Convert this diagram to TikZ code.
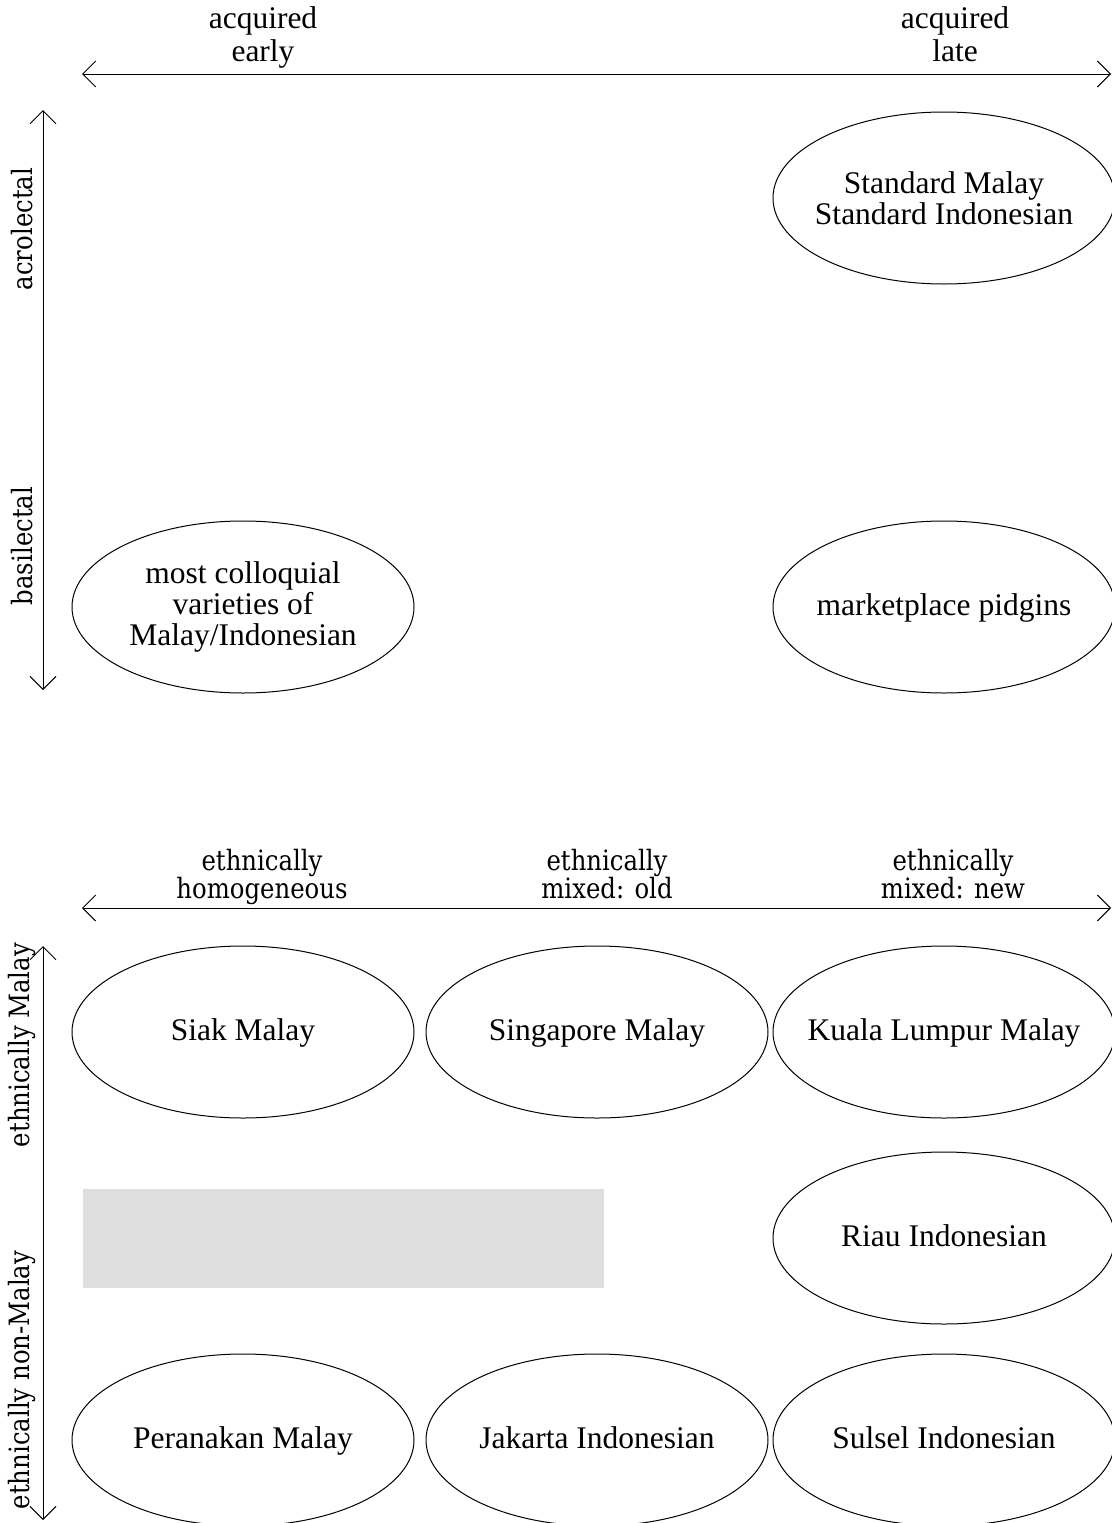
\documentclass[tikz,border=0pt]{standalone}
\usepackage{fontspec}
\setmainfont{Liberation Serif}
\newfontfamily\pixfont[FakeStretch=0.87]{DejaVu Serif}
\usetikzlibrary{arrows.meta,shapes.geometric}
\definecolor{boxgray}{HTML}{DEDEDE}
\tikzset{
  variety/.style={ellipse,draw,line width=1pt,minimum width=342pt,
    minimum height=172pt,inner xsep=-25pt,inner ysep=0pt,align=center,
    font=\fontsize{31.5}{31}\selectfont},
  oneline/.style={text height=21pt,text depth=5pt},
  axisline/.style={line width=1pt,
    {Straight Barb[length=13pt,width=26pt]}-{Straight Barb[length=13pt,width=26pt]}},
  poletext/.style={inner sep=0pt,align=center,anchor=north,
    font=\fontsize{31.5}{33}\selectfont},
  pixtext/.style={inner sep=0pt,align=center,
    font=\pixfont\fontsize{28}{24}\selectfont},
}
\begin{document}
\begin{tikzpicture}[x=1pt,y=-1pt]
\useasboundingbox (0,0) rectangle (1111,1523);
% acquisition and lect axes
\coordinate (acqL) at (82,74);
\coordinate (acqR) at (1111,74);
\draw[axisline] (acqL) -- (acqR);
\node[poletext] (early) at (263,6) {acquired\\early};
\node[poletext] (late) at (955,6) {acquired\\late};
\coordinate (lectT) at (43,110);
\coordinate (lectB) at (43,690);
\draw[axisline] (lectT) -- (lectB);
\node[pixtext,rotate=90] (acro) at (22,229) {acrolectal};
\node[pixtext,rotate=90] (basi) at (22,546) {basilectal};
\node[variety] (standard) at (944,198) {Standard Malay\\Standard Indonesian};
\node[variety] (colloq) at (243,607) {most colloquial\\varieties of\\Malay/Indonesian};
\node[variety,oneline] (pidgin) at (944,607) {marketplace pidgins};
% ethnicity axes
\coordinate (mixL) at (82,908);
\coordinate (mixR) at (1111,908);
\draw[axisline] (mixL) -- (mixR);
\node[pixtext,anchor=north] (homog) at (262,849) {ethnically\\homogeneous};
\node[pixtext,anchor=north] (mixold) at (607,849) {ethnically\\mixed: old};
\node[pixtext,anchor=north] (mixnew) at (953,849) {ethnically\\mixed: new};
\coordinate (ethT) at (43,946);
\coordinate (ethB) at (43,1520);
\draw[axisline] (ethT) -- (ethB);
\node[pixtext,rotate=90] (ethmalay) at (22,1045) {ethnically Malay};
\node[pixtext,rotate=90] (ethnon) at (22,1380) {ethnically non-Malay};
\fill[boxgray] (83,1189) rectangle (604,1288);
\node[variety,oneline] (siak) at (243,1032) {Siak Malay};
\node[variety,oneline] (singapore) at (597,1032) {Singapore Malay};
\node[variety,oneline] (kl) at (944,1032) {Kuala Lumpur Malay};
\node[variety,oneline] (riau) at (944,1238) {Riau Indonesian};
\node[variety,oneline] (peranakan) at (243,1440) {Peranakan Malay};
\node[variety,oneline] (jakarta) at (597,1440) {Jakarta Indonesian};
\node[variety,oneline] (sulsel) at (944,1440) {Sulsel Indonesian};
\end{tikzpicture}
\end{document}
